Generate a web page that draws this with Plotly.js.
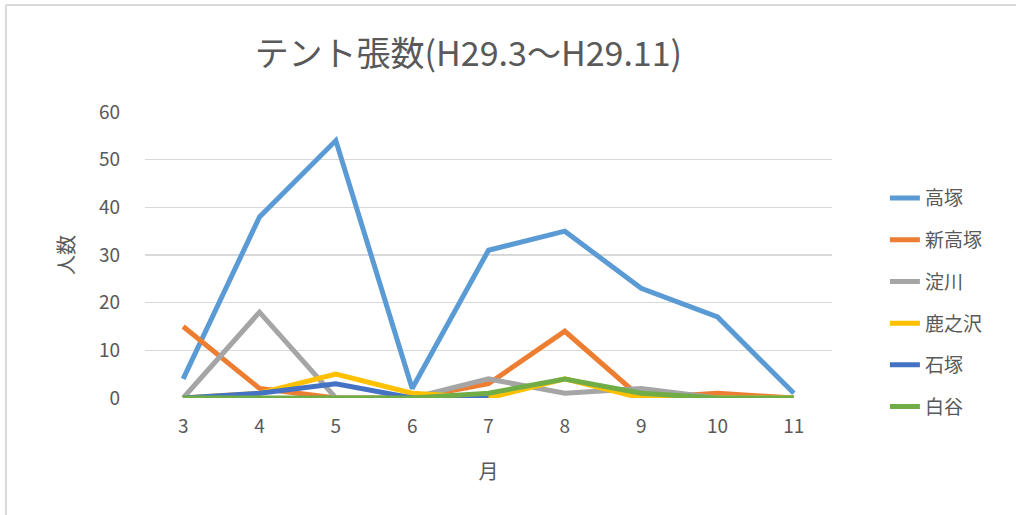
<!DOCTYPE html>
<html>
<head>
<meta charset="utf-8">
<script src="https://cdn.plot.ly/plotly-3.0.1.min.js"></script>
<style>html,body{margin:0;padding:0;background:#fff;}#chart{width:1016px;height:515px;}</style>
</head>
<body>
<div id="chart"></div>
<script>
const months = [3, 4, 5, 6, 7, 8, 9, 10, 11];
const seriesNames = ["高塚", "新高塚", "淀川", "鹿之沢", "石塚", "白谷"];
const takatsuka    = [4, 38, 54, 2, 31, 35, 23, 17, 1];
const shinTakatsuka = [15, 2, 0, 0, 3, 14, 0, 1, 0];
const yodogawa     = [0, 18, 0, 0, 4, 1, 2, 0, 0];
const kanosawa     = [0, 1, 5, 1, 0, 4, 0, 0, 0];
const ishizuka     = [0, 1, 3, 0, 0, null, null, null, null];
const shiratani    = [0, 0, 0, 0, 1, 4, 1, 0, 0];
const colors = ["#5B9BD5", "#ED7D31", "#A5A5A5", "#FFC000", "#4472C4", "#70AD47"];
const values = [takatsuka, shinTakatsuka, yodogawa, kanosawa, ishizuka, shiratani];

const font = "'Noto Sans CJK JP', 'Noto Sans', sans-serif";
const traces = values.map((v, i) => ({
  x: months, y: v, name: seriesNames[i], type: "scatter", mode: "lines",
  line: {color: colors[i], width: 5}, legendgroup: "g" + i, connectgaps: false
}));

const layout = {
  width: 1016, height: 515,
  margin: {l: 145, r: 184, t: 112, b: 117},
  paper_bgcolor: "#ffffff", plot_bgcolor: "#ffffff",
  font: {family: font, color: "#595959", size: 16},
  title: {text: "テント張数(H29.3～H29.11)", x: 0.461, xanchor: "center", y: 0.895, yanchor: "middle",
          font: {size: 34, color: "#595959", family: font}},
  xaxis: {range: [2.5, 11.5], tickvals: months, ticktext: months.map(String), showgrid: false,
          zeroline: false, showline: false, ticks: "", tickfont: {size: 19, color: "#595959"},
          ticklabelstandoff: 15,
          title: {text: "月", font: {size: 20, color: "#595959"}, standoff: 27}, fixedrange: true},
  yaxis: {range: [0, 60], dtick: 10, showgrid: true, gridcolor: "#d9d9d9", gridwidth: 1.5,
          zeroline: false, showline: false, ticks: "", tickfont: {size: 19, color: "#595959"},
          ticklabelstandoff: 24,
          title: {text: "人数", font: {size: 20, color: "#595959"}, standoff: 18}, fixedrange: true},
  legend: {x: 1.077, xanchor: "left", y: 0.765, yanchor: "top", font: {size: 19, color: "#595959"},
           traceorder: "grouped", tracegroupgap: 14, bgcolor: "rgba(0,0,0,0)"},
  shapes: [
    {type: "line", xref: "paper", yref: "paper", x0: -0.2025, x1: -0.2025, y0: -0.5, y1: 1.374,
     line: {color: "#d9d9d9", width: 2}},
    {type: "line", xref: "paper", yref: "paper", x0: -0.2025, x1: 1.3, y0: 1.374, y1: 1.374,
     line: {color: "#d9d9d9", width: 2}}
  ],
  showlegend: true
};

Plotly.newPlot("chart", traces, layout, {displayModeBar: false, staticPlot: true});
</script>
</body>
</html>
